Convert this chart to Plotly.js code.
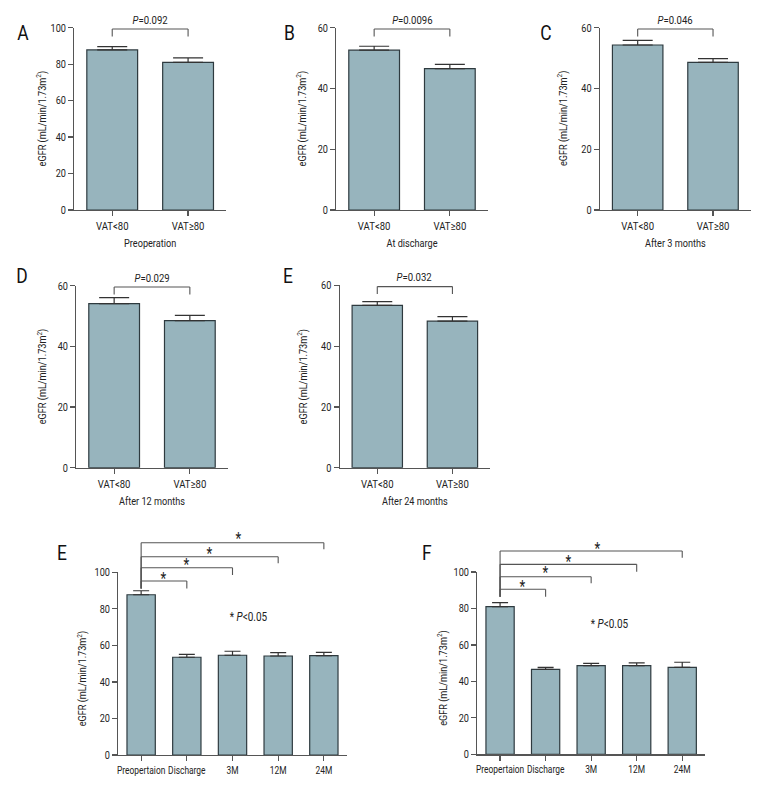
<!DOCTYPE html>
<html>
<head>
<meta charset="utf-8">
<script src="https://cdn.plot.ly/plotly-3.0.1.min.js"></script>
<style>html,body{margin:0;padding:0;background:#fff;}#chart{width:780px;height:792px;}</style>
</head>
<body>
<div id="chart"></div>
<script>
// ---- data ----
const groups = ["VAT<80", "VAT≥80"];
const preopMean = [87.8, 81.0];
const preopErr = [1.8, 2.5];
const dischargeMean = [52.6, 46.5];
const dischargeErr = [1.3, 1.4];
const month3Mean = [54.3, 48.6];
const month3Err = [1.5, 1.2];
const month12Mean = [54.1, 48.5];
const month12Err = [2.0, 1.7];
const month24Mean = [53.4, 48.2];
const month24Err = [1.2, 1.5];
const pValues = ["0.092", "0.0096", "0.046", "0.029", "0.032"];
const periodTitles = ["Preoperation", "At discharge", "After 3 months", "After 12 months", "After 24 months"];

const timepoints = ["Preopertaion", "Discharge", "3M", "12M", "24M"];
const lowVatMean = [87.7, 53.5, 54.6, 54.2, 54.4];
const lowVatErr = [2.2, 1.6, 2.2, 1.8, 1.8];
const highVatMean = [81.0, 46.6, 48.6, 48.6, 47.7];
const highVatErr = [2.2, 1.1, 1.3, 1.6, 2.8];

const yTitle = "eGFR (mL/min/1.73m<sup>2</sup>)";

// ---- layout helpers ----
const W = 780, H = 792;
const FONT = "Roboto, 'Liberation Sans', 'DejaVu Sans', sans-serif";
const BAR = "#97b4bd", EDGE = "#2e3a3f", AXC = "#555", TXT = "#222";
const CONDENSE = 0.83, CONDENSE_BOTTOM_TICKS = 0.8;
const dxp = (a, b) => [a / W, b / W];
const dyp = (t, b) => [1 - b / H, 1 - t / H];

const topMeans = [preopMean, dischargeMean, month3Mean, month12Mean, month24Mean];
const topErrs = [preopErr, dischargeErr, month3Err, month12Err, month24Err];
const topBoxes = [
  {x: [74.3, 226], y: [27.7, 210], ymax: 100, tOff: 32, tY: 0.5},
  {x: [336.3, 487.7], y: [27.7, 210], ymax: 60, tOff: 34, tY: 0.5},
  {x: [600, 750.7], y: [27.7, 210], ymax: 60, tOff: 37, tY: 0.5},
  {x: [76.3, 227.7], y: [285.7, 467.7], ymax: 60, tOff: 34, tY: 0.5},
  {x: [339.7, 490], y: [285.3, 467.7], ymax: 60, tOff: 37, tY: 0.5}
];
const bottomBoxes = [
  {x: [118.3, 346.7], y: [572.3, 755], tOff: 36.5, tY: 0.42},
  {x: [477.3, 705], y: [572, 754.3], tOff: 34.5, tY: 0.42}
];

const traces = [];
const layout = {
  width: W, height: H,
  margin: {l: 0, r: 0, t: 0, b: 0},
  paper_bgcolor: "#fff", plot_bgcolor: "rgba(0,0,0,0)",
  showlegend: false,
  font: {family: FONT, color: TXT, size: 11},
  shapes: [], annotations: []
};

function axes(n, box, xtitle, ymax, xtickSize) {
  const xs = n === 1 ? "xaxis" : "xaxis" + n;
  const ys = n === 1 ? "yaxis" : "yaxis" + n;
  const xa = {
    domain: dxp(box.x[0], box.x[1]), anchor: "y" + n, type: "category",
    showline: true, linecolor: AXC, linewidth: 1.2,
    ticks: "outside", ticklen: 5, tickwidth: 1.2, tickcolor: AXC, tickangle: 0,
    tickfont: {family: FONT, size: xtickSize, color: TXT},
    showgrid: false, zeroline: false, fixedrange: true
  };
  if (xtitle) xa.title = {text: xtitle, font: {family: FONT, size: 11, color: TXT}, standoff: 7};
  layout[xs] = xa;
  layout[ys] = {
    domain: dyp(box.y[0], box.y[1]), anchor: "x" + n,
    range: [0, ymax], dtick: 20, tick0: 0,
    showline: true, linecolor: AXC, linewidth: 1.2,
    ticks: "outside", ticklen: 5, tickwidth: 1.2, tickcolor: AXC,
    tickfont: {family: FONT, size: 11, color: TXT},
    showgrid: false, zeroline: false, fixedrange: true
  };
  // y-axis title placed at a fixed distance from the axis line
  layout.annotations.push({text: yTitle, textangle: -90, xref: "x" + n + " domain", yref: "y" + n + " domain",
    x: 0, y: box.tY, xshift: -box.tOff, xanchor: "center", yanchor: "middle", showarrow: false,
    font: {family: FONT, size: 11, color: TXT}});
}

function barTrace(n, cats, vals, errs, width, cap) {
  return {
    type: "bar", x: cats, y: vals,
    xaxis: "x" + n, yaxis: "y" + n, width: width,
    marker: {color: BAR, line: {color: EDGE, width: 1.2}},
    error_y: {type: "data", symmetric: false, array: errs, arrayminus: errs.map(() => 0),
              color: "#333", thickness: 1.2, width: cap},
    hoverinfo: "skip"
  };
}

function hline(n, x0, x1, y) {
  layout.shapes.push({type: "line", xref: "x" + n, yref: "y" + n + " domain",
    x0: x0, x1: x1, y0: y, y1: y, line: {color: AXC, width: 1.1}});
}
function vline(n, x, y0, y1) {
  layout.shapes.push({type: "line", xref: "x" + n, yref: "y" + n + " domain",
    x0: x, x1: x, y0: y0, y1: y1, line: {color: AXC, width: 1.1}});
}
function letter(txt, px, py) {
  layout.annotations.push({text: txt, xref: "paper", yref: "paper", x: px / W, y: 1 - py / H,
    xanchor: "center", yanchor: "middle", showarrow: false,
    font: {family: FONT, size: 21, color: "#111"}});
}

// top five panels
for (let i = 0; i < 5; i++) {
  const n = i + 1, box = topBoxes[i];
  axes(n, box, periodTitles[i], box.ymax, 11.5);
  traces.push(barTrace(n, groups, topMeans[i], topErrs[i], 0.67, 15));
  const yb = 0.993, yd = 0.952;
  hline(n, 0, 1, yb); vline(n, 0, yb, yd); vline(n, 1, yb, yd);
  layout.annotations.push({text: "<i>P</i>=" + pValues[i], xref: "x" + n, yref: "y" + n + " domain",
    x: 0.5, y: 1.044, xanchor: "center", yanchor: "middle", showarrow: false,
    font: {family: FONT, size: 11.5, color: TXT}});
}

// bottom two panels
const bottomMeans = [lowVatMean, highVatMean];
const bottomErrs = [lowVatErr, highVatErr];
const bracketLevels = [
  {b: [0.952, 1.025, 1.085, 1.162], d: [0.912, 0.985, 1.049, 1.126], s: [0.985, 1.058, 1.122, 1.199], note: [2.34, 0.757]},
  {b: [0.905, 0.974, 1.042, 1.115], d: [0.864, 0.938, 1.002, 1.078], s: [0.938, 1.011, 1.075, 1.148], note: [2.41, 0.715]}
];
for (let j = 0; j < 2; j++) {
  const n = 6 + j, box = bottomBoxes[j], lv = bracketLevels[j];
  axes(n, box, null, 100, 10.5);
  traces.push(barTrace(n, timepoints, bottomMeans[j], bottomErrs[j], 0.62, 8));
  for (let k = 0; k < 4; k++) {
    hline(n, 0, k + 1, lv.b[k]);
    vline(n, k + 1, lv.b[k], lv.d[k]);
    vline(n, 0, lv.b[k], lv.d[0]);
    layout.annotations.push({text: "*", xref: "x" + n, yref: "y" + n + " domain",
      x: (k + 1) / 2, y: lv.s[k], xshift: k === 3 ? 6 : 0, yshift: -3,
      xanchor: "center", yanchor: "middle", showarrow: false,
      font: {family: FONT, size: 16, color: TXT}});
  }
  layout.annotations.push({text: "* <i>P</i>&lt;0.05", xref: "x" + n, yref: "y" + n + " domain",
    x: lv.note[0], y: lv.note[1], xanchor: "center", yanchor: "middle", showarrow: false,
    font: {family: FONT, size: 12, color: TXT}});
}

letter("A", 23, 33); letter("B", 289, 33); letter("C", 546, 33);
letter("D", 22, 276); letter("E", 288, 276);
letter("E", 62, 553); letter("F", 427, 553);

Plotly.newPlot("chart", traces, layout, {staticPlot: true, displayModeBar: false}).then(function (gd) {
  // emulate the condensed typeface of the original figure
  gd.querySelectorAll("svg text").forEach(function (t) {
    if (!t.textContent) return;
    const L = t.getComputedTextLength();
    if (!L) return;
    const bottomTick = t.classList.contains("x6tick") || t.classList.contains("x7tick") ||
      (t.parentNode && t.parentNode.classList && (t.parentNode.classList.contains("x6tick") || t.parentNode.classList.contains("x7tick")));
    const f = bottomTick ? CONDENSE_BOTTOM_TICKS : CONDENSE;
    t.setAttribute("textLength", (L * f).toFixed(2));
    t.setAttribute("lengthAdjust", "spacingAndGlyphs");
  });
});
</script>
</body>
</html>
